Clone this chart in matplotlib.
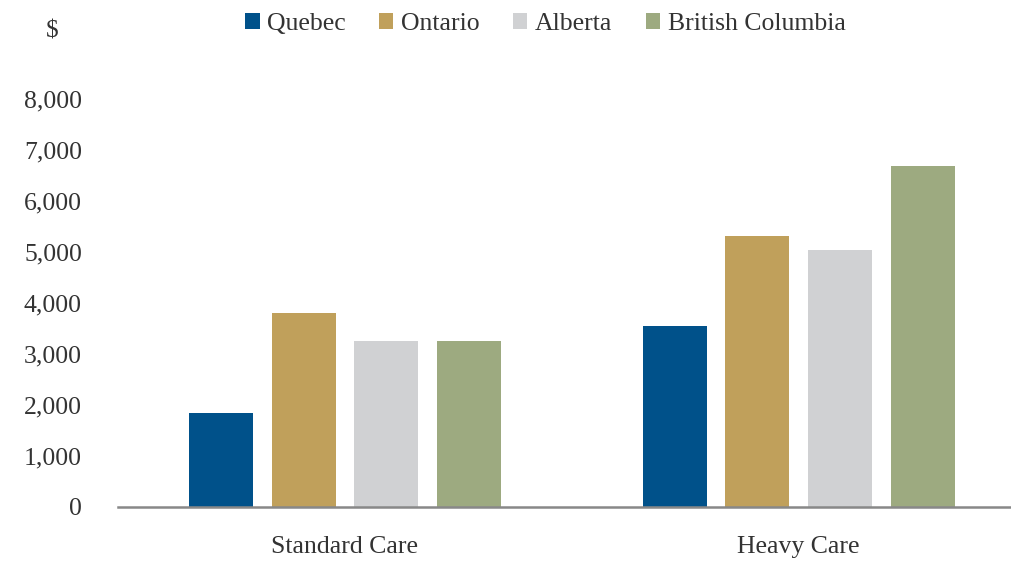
import numpy as np
import matplotlib.pyplot as plt

plt.rcParams['font.family'] = ['Liberation Serif', 'DejaVu Serif']

categories = ['Standard Care', 'Heavy Care']
provinces = ['Quebec', 'Ontario', 'Alberta', 'British Columbia']
quebec = [1850, 3540]
ontario = [3810, 5310]
alberta = [3260, 5030]
british_columbia = [3260, 6690]
series = [quebec, ontario, alberta, british_columbia]
colors = ['#00518A', '#C0A05B', '#D0D1D3', '#9DAA80']
yticks = [0, 1000, 2000, 3000, 4000, 5000, 6000, 7000, 8000]

fig = plt.figure(figsize=(10.12, 5.62), dpi=100)
ax = fig.add_axes([0.1166, 0.098, 0.8834, 0.726])

x = np.arange(len(categories))
width = 0.141
pitch = 0.182
for i, (vals, c, name) in enumerate(zip(series, colors, provinces)):
    ax.bar(x + (i - 1.5) * pitch, vals, width, color=c, label=name)

ax.set_xlim(-0.5, 1.47)
ax.set_ylim(0, 8000)
ax.set_yticks(yticks)
ax.set_yticklabels([f'{v:,}' for v in yticks])
ax.set_xticks(x)
ax.set_xticklabels(categories)
ax.tick_params(length=0, labelsize=18.5, colors='#333333')
ax.tick_params(axis='y', pad=26)
ax.tick_params(axis='x', pad=21)
for s in ['top', 'right', 'left']:
    ax.spines[s].set_visible(False)
ax.spines['bottom'].set_color('#888888')
ax.spines['bottom'].set_linewidth(1.8)

fig.text(0.052, 0.944, '$', fontsize=18, color='#333333', ha='center', va='center')
fig.legend(loc='center', bbox_to_anchor=(0.539, 0.957), ncol=4, frameon=False,
           fontsize=18.5, handlelength=0.55, handleheight=0.55, handletextpad=0.3,
           columnspacing=1.3, labelcolor='#333333')

plt.savefig('out.png', dpi=100)
